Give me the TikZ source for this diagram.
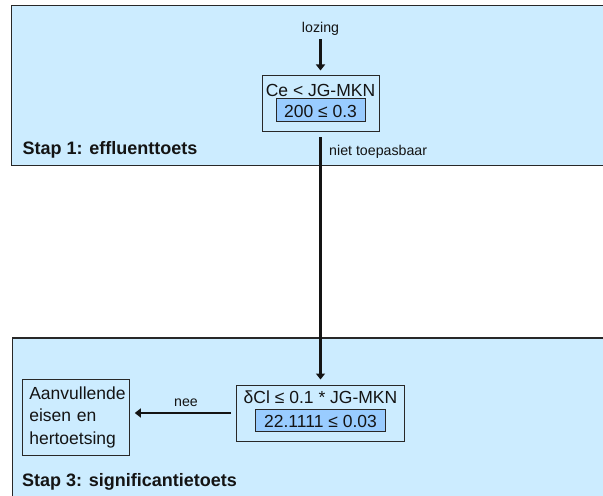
\documentclass[tikz,border=0pt]{standalone}
\usepackage{fontspec}
\setmainfont[Ligatures=NoCommon]{Liberation Sans}
\usetikzlibrary{arrows.meta}
\definecolor{panelfill}{RGB}{204,236,255}
\definecolor{innerfill}{RGB}{153,204,255}
\definecolor{edge}{RGB}{40,40,40}
\definecolor{ink}{RGB}{20,20,20}
\newcommand\bxf{\fontsize{17.5bp}{22.35bp}\selectfont}
\newcommand\lblf{\fontsize{14.2bp}{17bp}\selectfont}
\newcommand\stapf{\fontsize{18bp}{21bp}\selectfont\bfseries}
\begin{document}
\begin{tikzpicture}[x=1bp,y=-1bp,
  panel/.style={draw=edge, line width=1.4bp, fill=panelfill, inner sep=0, anchor=north west},
  box/.style={draw=edge, line width=1bp, fill=panelfill, inner sep=0, text=ink, font=\bxf},
  inbox/.style={draw=edge, line width=1bp, fill=innerfill, inner sep=0, text=ink, font=\bxf,
    text height=13.5bp, text depth=0bp},
  txt/.style={inner sep=0, text=ink, font=\bxf},
  lbl/.style={inner sep=0, text=ink, font=\lblf},
  stap/.style={inner sep=0, text=ink, font=\stapf},
  conn/.style={line width=2.6bp, draw=ink, -{Triangle[width=9bp,length=6bp]},
    shorten <=5bp, shorten >=5bp}]
\clip (0,0) rectangle (603,496);
\useasboundingbox (0,0) rectangle (603,496);
\fill[white] (0,0) rectangle (603,496);
% panels
\node[panel, minimum width=610bp, minimum height=160.3bp] (p1) at (10.7,4.7) {};
\node[panel, minimum width=610bp, minimum height=180bp] (p3) at (11.7,337.3) {};
% stap 1
\node[lbl, anchor=base] (loz) at (320.5,33) {lozing};
\node[box, minimum width=117bp, minimum height=56bp] (b1) at (320.5,104) {};
\node[txt, anchor=base] (b1t) at (320.5,97) {Ce < JG-MKN};
\node[inbox, minimum width=89bp, minimum height=23bp] (b1i) at (320.5,110.5) {200 ≤ 0.3};
\node[stap, anchor=base west] (s1) at (22.5,155) {Stap 1: effluenttoets};
\node[lbl, anchor=base west] (nt) at (329,155.5) {niet toepasbaar};
% stap 3
\node[box, minimum width=168bp, minimum height=56bp] (b2) at (320.5,413) {};
\node[txt, anchor=base] (b2t) at (320.5,403.3) {δCl ≤ 0.1 * JG-MKN};
\node[inbox, minimum width=129.3bp, minimum height=21.7bp] (b2i) at (320.5,420.8) {22.1111 ≤ 0.03};
\node[box, minimum width=106.6bp, minimum height=75.7bp, align=left, text width=93.4bp,
  inner xsep=6.6bp] (ab) at (76,417.2) {Aanvullende\\eisen en\\hertoetsing};
\node[lbl, anchor=base] (nee) at (186,406.5) {nee};
\node[stap, anchor=base west] (s3) at (22,486) {Stap 3: significantietoets};
% connectors
\draw[conn, shorten <=3bp] (loz.south) -- (b1.north);
\draw[conn] (b1.south) -- (b2.north);
\draw[conn] (b2.west) -- (b2.west -| ab.east);
\end{tikzpicture}
\end{document}
